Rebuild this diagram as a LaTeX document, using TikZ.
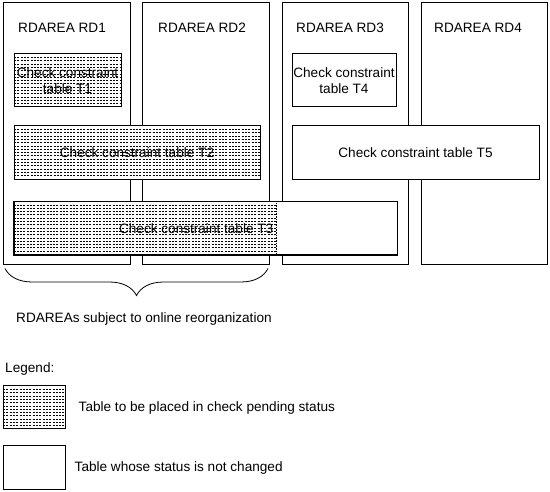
\documentclass[tikz,border=0pt]{standalone}
\usepackage{fontspec}
\setmainfont{Liberation Sans}
\usepackage{tikz}
\usetikzlibrary{positioning,decorations.pathreplacing}

\tikzset{
	area/.style={draw, line width=1pt, minimum width=127pt, minimum height=262pt, inner sep=0pt},
	tbl/.style={draw, fill=white, line width=1pt, inner sep=0pt, align=center, font=\fontsize{13.6}{16}\selectfont},
	dotfill/.style={path picture={
			\foreach \k in {1,...,40}
			\draw[line width=0.5pt, dash pattern=on 2pt off 1.3pt]
			([yshift=-\k*3.3pt]path picture bounding box.north west) --
			([yshift=-\k*3.3pt]path picture bounding box.north east);}},
	lbl/.style={font=\fontsize{13.6}{16}\selectfont, inner sep=0pt, anchor=west}
}

\begin{document}
\begin{tikzpicture}[x=1pt, y=-1pt]
		\useasboundingbox (0,0) rectangle (550,492);

		% RDAREAs
		\node[area] (rd1) at (67,134) {};
		\node[area] (rd2) at (206,134) {};
		\node[area, minimum width=126pt] (rd3) at (345,134) {};
		\node[area, minimum width=126pt] (rd4) at (484,134) {};
		\node[lbl] (rd1title) at (18,28) {RDAREA RD1};
		\node[lbl] (rd2title) at (158,28) {RDAREA RD2};
		\node[lbl] (rd3title) at (296,28) {RDAREA RD3};
		\node[lbl] (rd4title) at (434,28) {RDAREA RD4};

		% tables
		\node[tbl, dotfill, minimum width=107pt, minimum height=53pt] (t1) at (67.5,80.5) {Check constraint\\table T1};
		\node[tbl, dotfill, minimum width=246pt, minimum height=54pt] (t2) at (137,153) {Check constraint table T2};
		\node[tbl, minimum width=383pt, minimum height=53pt] (t3) at (205.5,228.5) {};
		\path[dotfill] (t3.north west) rectangle ([xshift=-121pt]t3.south east);
		\draw[densely dotted, line width=0.6pt] ([xshift=-121pt]t3.north east) -- ([xshift=-121pt]t3.south east);
		\draw[line width=1pt] (t3.north west) rectangle (t3.south east);
		\node[lbl, anchor=east] (t3text) at ([xshift=-124pt]t3.east) {Check constraint table T3};
		\node[tbl, minimum width=104pt, minimum height=53pt] (t4) at (344,80.5) {Check constraint\\table T4};
		\node[tbl, minimum width=247pt, minimum height=54pt] (t5) at (415.5,153) {Check constraint table T5};

		% brace
		\draw[line width=0.8pt, decorate, decoration={brace, mirror, amplitude=27pt}]
		([shift={(2pt,-3pt)}]rd1.south west) -- ([shift={(-2pt,-3pt)}]rd2.south east);
		\node[lbl] (online) at (16,319) {RDAREAs subject to online reorganization};

		% legend
		\node[lbl] (legend) at (5,369) {Legend:};
		\node[tbl, dotfill, minimum width=62pt, minimum height=43pt] (leg1) at (34,407.5) {};
		\node[lbl, right=13pt of leg1] (leg1text) {Table to be placed in check pending status};
		\node[tbl, minimum width=62pt, minimum height=43pt] (leg2) at (34,467.5) {};
		\node[lbl, right=9pt of leg2] (leg2text) {Table whose status is not changed};
	\end{tikzpicture}
\end{document}
